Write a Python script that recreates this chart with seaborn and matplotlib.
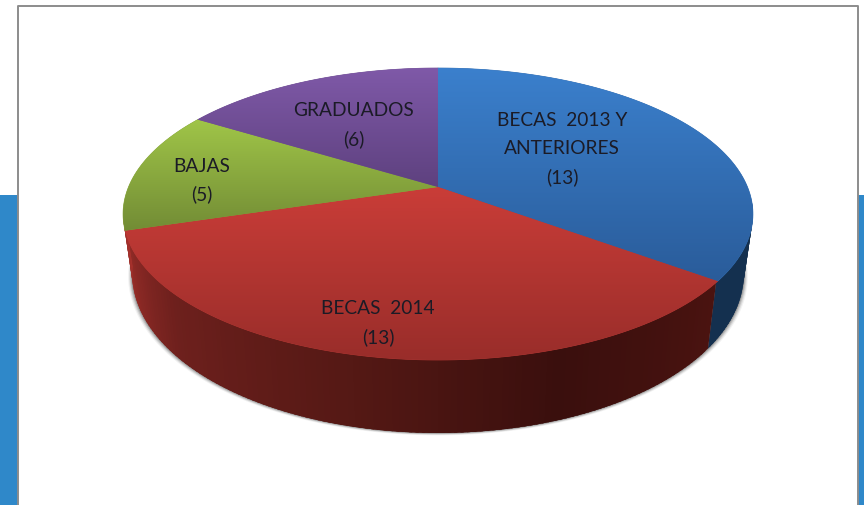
import numpy as np
import matplotlib
matplotlib.use("Agg")
import matplotlib.pyplot as plt
from matplotlib.patches import Polygon, Rectangle
import seaborn as sns

# slices, clockwise from 12 o'clock
categories = ["BECAS  2013 Y\nANTERIORES", "BECAS  2014", "BAJAS", "GRADUADOS"]
values = [13, 13, 5, 6]

top_light = ["#3b80cd", "#ca3d38", "#a0c548", "#7f59a8"]
top_dark = ["#2a5c9a", "#992d2a", "#728c35", "#5e417f"]

label_x = [562, 378, 202, 354]
label_y = [121, 309, 166, 111]
line_gap = 28

# pie geometry, in pixels of the picture
cx, cy = 438, 187
radius, tilt, persp = 309.5, 141, 0.185
base_sx, base_sy, base_y = 0.971, 1.09, 244.4


def rim(angle):
    t = np.radians(90 - np.asarray(angle, dtype=float))
    d = 1 + persp * np.sin(t)
    return cx + radius * np.cos(t) / d, cy - tilt * np.sin(t) / d


def base(angle):
    x, y = rim(angle)
    return cx + base_sx * (x - cx), base_y + base_sy * (y - cy)


sns.set_theme(style="white")
plt.rcParams["font.family"] = ["Lato", "DejaVu Sans"]

fig = plt.figure(figsize=(8.64, 5.05), dpi=100)
ax = fig.add_axes([0, 0, 1, 1])
ax.axis("off")

# slide behind the chart
ax.add_patch(Rectangle((0, 195), 18, 310, color="#2f88c9", lw=0, zorder=1))
ax.add_patch(Rectangle((858, 195), 6, 310, color="#2f88c9", lw=0, zorder=1))
ax.plot([18, 18, 858, 858], [505, 6, 6, 505], color="#8c8c8c", lw=1.4, zorder=2)

edges = np.concatenate([[0], np.cumsum(values)]) / sum(values) * 360

# soft shadow under the side wall
arc = np.linspace(92, 264, 200)
bx, by = base(arc)
for off, alpha in zip([4, 3, 2, 1], [0.05, 0.09, 0.13, 0.18]):
    rx = cx + (bx - cx) * (1 + off / 300)
    ry = by + off * 0.6
    ax.add_patch(Polygon(np.column_stack([rx, ry]), color="black", alpha=alpha, lw=0, zorder=3))

# side wall, strip by strip; each strip runs on under the next to hide seams
side_red = sns.blend_palette(["#4a1310", "#3a0f0d", "#561915", "#6e201d", "#a8322d"], 136)
side_angles = np.linspace(95, 262, 168)
for a0 in side_angles[:-1]:
    a1 = min(a0 + 2.5, 262)
    if a0 < edges[1]:
        col = "#14304f"
        a1 = min(a1, edges[1] + 0.5)
    else:
        col = side_red[min(int(a0 - edges[1]), len(side_red) - 1)]
    x0, y0 = rim(a0)
    x1, y1 = rim(a1)
    x2, y2 = base(a1)
    x3, y3 = base(a0)
    ax.add_patch(Polygon([[x0, y0], [x1, y1], [x2, y2], [x3, y3]], fc=col, lw=0, zorder=4))

# top face with a vertical gradient per slice
for i in range(len(values)):
    ang = np.linspace(edges[i], edges[i + 1], 120)
    px, py = rim(ang)
    pts = np.vstack([[cx, cy], np.column_stack([px, py])])
    base_col = sns.blend_palette([top_light[i], top_dark[i]], 3)[1]
    ax.add_patch(Polygon(pts, fc=base_col, ec=base_col, lw=0.5, zorder=5))
    cmap = sns.blend_palette([top_light[i], top_dark[i]], as_cmap=True)
    grad = np.linspace(0, 1, 256).reshape(-1, 1)
    im = ax.imshow(grad, cmap=cmap, aspect="auto", origin="upper", zorder=6,
                   extent=(pts[:, 0].min(), pts[:, 0].max(), pts[:, 1].max(), pts[:, 1].min()))
    clip = Polygon(pts, transform=ax.transData)
    im.set_clip_path(clip)

for name, n, x, y in zip(categories, values, label_x, label_y):
    lines = name.split("\n") + ["(%d)" % n]
    for j, line in enumerate(lines):
        ax.text(x, y + j * line_gap, line, ha="center", va="center", fontsize=13.8,
                color="#1b1b26", zorder=8)

ax.set_xlim(0, 864)
ax.set_ylim(505, 0)
fig.savefig("out.png", dpi=100, facecolor="white")
